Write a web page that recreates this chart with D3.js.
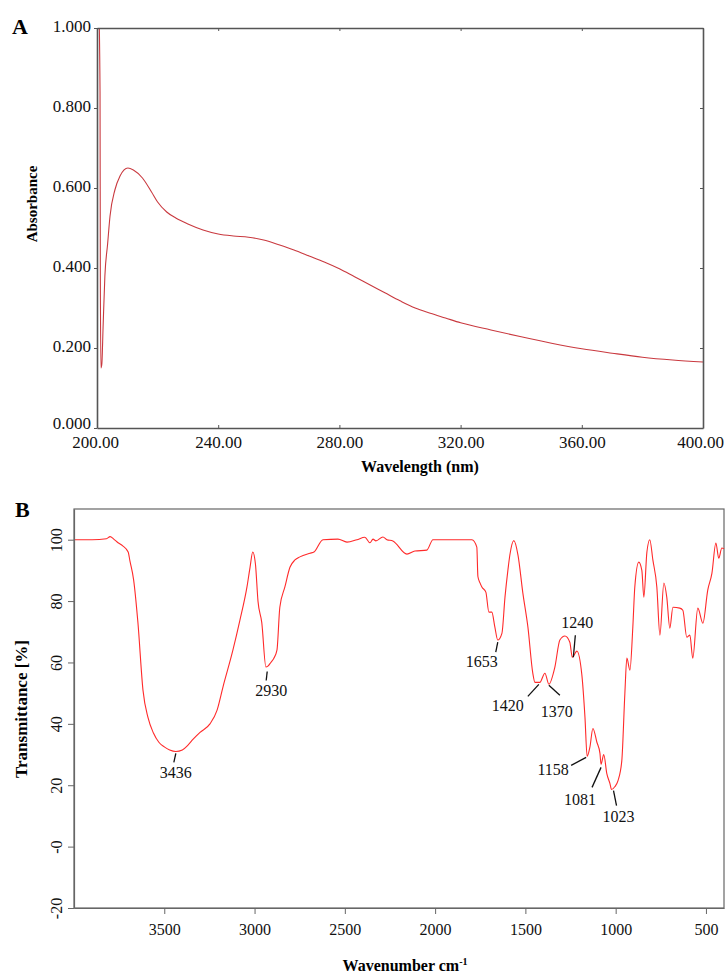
<!DOCTYPE html>
<html>
<head>
<meta charset="utf-8">
<script src="https://cdn.jsdelivr.net/npm/d3@7"></script>
<style>
  body { margin: 0; background: #fff; }
  svg { display: block; font-family: "Liberation Serif", "DejaVu Serif", serif; }
</style>
</head>
<body>
<svg width="725" height="976"></svg>
<script>
// ---- panel A : UV-vis spectrum ----
const uvWave = [200.5, 201.0, 201.1, 201.3, 201.6, 202.0, 202.6, 203.5, 204.3, 205.9, 207.6, 210.2, 212, 215, 218, 220, 223, 226, 230, 235, 240, 245, 250, 255, 260, 265, 270, 275, 280, 285, 290, 295, 300, 305, 310, 315, 320, 330, 340, 350, 360, 370, 380, 390, 400];
const uvAbs = [1.1, 0.84, 0.38, 0.15, 0.16, 0.25, 0.38, 0.46, 0.53, 0.595, 0.63, 0.65, 0.645, 0.625, 0.59, 0.565, 0.54, 0.525, 0.51, 0.495, 0.485, 0.48, 0.477, 0.47, 0.458, 0.445, 0.43, 0.415, 0.398, 0.378, 0.358, 0.338, 0.318, 0.3, 0.287, 0.275, 0.263, 0.245, 0.228, 0.212, 0.198, 0.187, 0.177, 0.17, 0.165];
const uvXTicks = [200, 240, 280, 320, 360, 400];
const uvYTicks = [0, 0.2, 0.4, 0.6, 0.8, 1.0];

// ---- panel B : FT-IR spectrum ----
const irWave = [4000, 3900, 3820, 3800, 3780, 3756, 3730, 3700, 3690, 3670, 3646, 3618, 3590, 3560, 3530, 3500, 3470, 3436, 3400, 3370, 3340, 3302, 3247, 3208, 3175, 3120, 3081, 3042, 3025, 3010, 2995, 2981, 2960, 2937, 2926, 2910, 2893, 2876, 2860, 2832, 2804, 2776, 2749, 2693, 2671, 2621, 2538, 2488, 2433, 2389, 2361, 2344, 2328, 2289, 2267, 2234, 2156, 2112, 2046, 2012, 1918, 1796, 1769, 1763, 1752, 1741, 1719, 1702, 1686, 1669, 1653, 1630, 1613, 1597, 1586, 1564, 1541, 1514, 1486, 1459, 1447, 1420, 1392, 1370, 1337, 1309, 1281, 1254, 1240, 1215, 1187, 1170, 1158, 1143, 1126, 1104, 1087, 1081, 1066, 1049, 1032, 1023, 1005, 987, 966, 949, 938, 921, 905, 894, 872, 855, 844, 827, 811, 794, 772, 755, 733, 717, 700, 683, 645, 628, 606, 589, 573, 545, 517, 490, 467, 445, 429, 412, 400];
const irTrans = [100, 100, 100.3, 101, 100.2, 99, 98, 96, 93, 87, 73, 51, 42, 37, 34, 32.5, 31.5, 31, 31.5, 33, 35, 37.2, 40, 44.4, 52, 64, 73.8, 84.6, 91, 96, 92, 80, 73, 58.5, 58.8, 60, 61.4, 64, 78, 84.6, 91, 93.4, 94.4, 95.6, 96, 100, 100.2, 99.2, 100, 100.8, 99, 100.2, 99.6, 100.9, 100, 99.6, 95.3, 96.3, 96.6, 100, 100, 100, 97.6, 88, 86, 84.6, 82.9, 76.4, 76.4, 71.5, 67.3, 69.5, 81.3, 90, 95, 99.7, 95, 82.6, 71.5, 56.5, 53.5, 53.5, 56.5, 52.9, 58.4, 67.3, 68.6, 66.6, 61.7, 63.7, 55.8, 42.1, 29.4, 32.3, 38.5, 34, 30.4, 26.8, 30, 23.8, 20.6, 18.6, 19.5, 21.5, 28, 50, 61.4, 57.5, 71.5, 84.6, 92.7, 90, 81.3, 96, 100, 93.4, 84.6, 68.9, 85.9, 81.3, 71.2, 78, 77.7, 77, 68.2, 68.9, 61.4, 77.7, 72.8, 83.6, 89, 98.9, 94, 97.3, 97];
const irXTicks = [3500, 3000, 2500, 2000, 1500, 1000, 500];
const irYTicks = [100, 80, 60, 40, 20, 0, -20];
const irYTickText = ['100', '80', '60', '40', '20', '-0', '-20'];

// peak labels
const peakWave = [3436, 2930, 1653, 1420, 1370, 1240, 1158, 1081, 1023];
// leader line [dx1, dy1, dx2, dy2] and label [dx, dy] offsets from the peak point
const peakLine = [[0, 2, -2, 11], [0, 5, -1, 14], [0, 2, -2, 12], [-1, 2, -12, 14], [0, 1, 11, 11], [1, 0, 3, -22], [-1, 1, -16, 9], [0, 3, -9, 23], [2, 1, 5, 16]];
const peakText = [[0, 27], [4, 30], [-16, 27], [-32, 29], [8, 33], [5, -29], [-34, 19], [-21, 41], [7, 32]];

const svg = d3.select('svg');

// ================= Panel A =================
const ax = d3.scaleLinear().domain([200, 400]).range([97, 703]);
const ay = d3.scaleLinear().domain([0, 1]).range([428, 28]);
const gA = svg.append('g');

gA.append('clipPath').attr('id', 'clipA')
  .append('rect').attr('x', 97).attr('y', 28).attr('width', 606).attr('height', 400);

gA.append('path')
  .datum(uvWave.map((w, i) => [w, uvAbs[i]]))
  .attr('clip-path', 'url(#clipA)')
  .attr('fill', 'none')
  .attr('stroke', '#c9393f')
  .attr('stroke-width', 1.1)
  .attr('d', d3.line().x(d => ax(d[0])).y(d => ay(d[1])).curve(d3.curveMonotoneX));

const axisColor = '#555';
const xA = gA.append('g').attr('transform', 'translate(0,428)')
  .call(d3.axisBottom(ax).tickValues(uvXTicks).tickFormat(d3.format('.2f')).tickSizeInner(-3).tickSizeOuter(0).tickPadding(8));
const xATop = gA.append('g').attr('transform', 'translate(0,28)')
  .call(d3.axisTop(ax).tickValues(uvXTicks).tickFormat('').tickSizeInner(-3).tickSizeOuter(0));
const yA = gA.append('g').attr('transform', 'translate(97,0)')
  .call(d3.axisLeft(ay).tickValues(uvYTicks).tickFormat(d3.format('.3f')).tickSizeInner(3).tickSizeOuter(0).tickPadding(3));
const yARight = gA.append('g').attr('transform', 'translate(703,0)')
  .call(d3.axisRight(ay).tickValues(uvYTicks).tickFormat('').tickSizeInner(-3).tickSizeOuter(0));
[xA, xATop, yA, yARight].forEach(g => {
  g.select('.domain').attr('stroke', axisColor).attr('stroke-width', 1.6);
  g.selectAll('.tick line').attr('stroke', axisColor);
  g.selectAll('text').attr('font-family', 'Liberation Serif').attr('font-size', 17).attr('fill', '#111');
});
yA.selectAll('.tick text').attr('dy', d => d === 0 ? '0.05em' : '0.22em');
xA.selectAll('.tick text').attr('dx', (d, i, n) => i === 0 ? -2 : (i === n.length - 1 ? -3 : 0));

gA.append('text').attr('x', 12).attr('y', 34)
  .attr('font-size', 22).attr('font-weight', 'bold').text('A');
gA.append('text').attr('transform', 'translate(37,204) rotate(-90)')
  .attr('text-anchor', 'middle').attr('font-size', 15).attr('font-weight', 'bold').text('Absorbance');
gA.append('text').attr('x', 420).attr('y', 472)
  .attr('text-anchor', 'middle').attr('font-size', 16).attr('font-weight', 'bold').text('Wavelength (nm)');

// ================= Panel B =================
const bx = d3.scaleLinear().domain([4000, 400]).range([74, 724]);
const by = d3.scaleLinear().domain([-20, 110]).range([908, 509]);
const gB = svg.append('g');

gB.append('rect').attr('x', 74).attr('y', 509).attr('width', 650).attr('height', 399)
  .attr('fill', 'none').attr('stroke', '#666').attr('stroke-width', 1.2);

gB.append('path')
  .datum(irWave.map((w, i) => [w, irTrans[i]]))
  .attr('fill', 'none')
  .attr('stroke', '#ff2a2a')
  .attr('stroke-width', 1.1)
  .attr('d', d3.line().x(d => bx(d[0])).y(d => by(d[1])).curve(d3.curveMonotoneX));

const xB = gB.append('g').attr('transform', 'translate(0,908)')
  .call(d3.axisBottom(bx).tickValues(irXTicks).tickFormat(d3.format('d')).tickSizeInner(6).tickSizeOuter(0).tickPadding(10));
const yB = gB.append('g').attr('transform', 'translate(74,0)')
  .call(d3.axisLeft(by).tickValues(irYTicks).tickFormat((d, i) => irYTickText[i]).tickSizeInner(6).tickSizeOuter(0));
[xB, yB].forEach(g => {
  g.select('.domain').attr('stroke', '#666').attr('stroke-width', 1.2);
  g.selectAll('.tick line').attr('stroke', '#666');
  g.selectAll('text').attr('font-family', 'Liberation Serif').attr('font-size', 16).attr('fill', '#111');
});
yB.selectAll('.tick text')
  .attr('x', null).attr('dy', null)
  .attr('text-anchor', 'middle')
  .attr('transform', 'translate(-12,0) rotate(-90)');

// peak labels
const interp = w => {
  const i = irWave.findIndex(v => v <= w);
  if (irWave[i] === w || i === 0) return irTrans[i];
  const t = (irWave[i - 1] - w) / (irWave[i - 1] - irWave[i]);
  return irTrans[i - 1] + t * (irTrans[i] - irTrans[i - 1]);
};
peakWave.forEach((w, i) => {
  const px = bx(w), py = by(interp(w));
  const l = peakLine[i], t = peakText[i];
  gB.append('line')
    .attr('x1', px + l[0]).attr('y1', py + l[1]).attr('x2', px + l[2]).attr('y2', py + l[3])
    .attr('stroke', '#111').attr('stroke-width', 1.3);
  gB.append('text').attr('x', px + t[0]).attr('y', py + t[1])
    .attr('text-anchor', 'middle').attr('font-size', 16).attr('fill', '#111').text(w);
});

gB.append('text').attr('x', 15).attr('y', 517)
  .attr('font-size', 22).attr('font-weight', 'bold').text('B');
gB.append('text').attr('transform', 'translate(27,709) rotate(-90)')
  .attr('text-anchor', 'middle').attr('font-size', 17).attr('font-weight', 'bold').text('Transmittance [%]');
const xl = gB.append('text').attr('x', 405).attr('y', 971)
  .attr('text-anchor', 'middle').attr('font-size', 16).attr('font-weight', 'bold');
xl.append('tspan').text('Wavenumber cm');
xl.append('tspan').attr('dy', -6).attr('font-size', 10).text('-1');
</script>
</body>
</html>
